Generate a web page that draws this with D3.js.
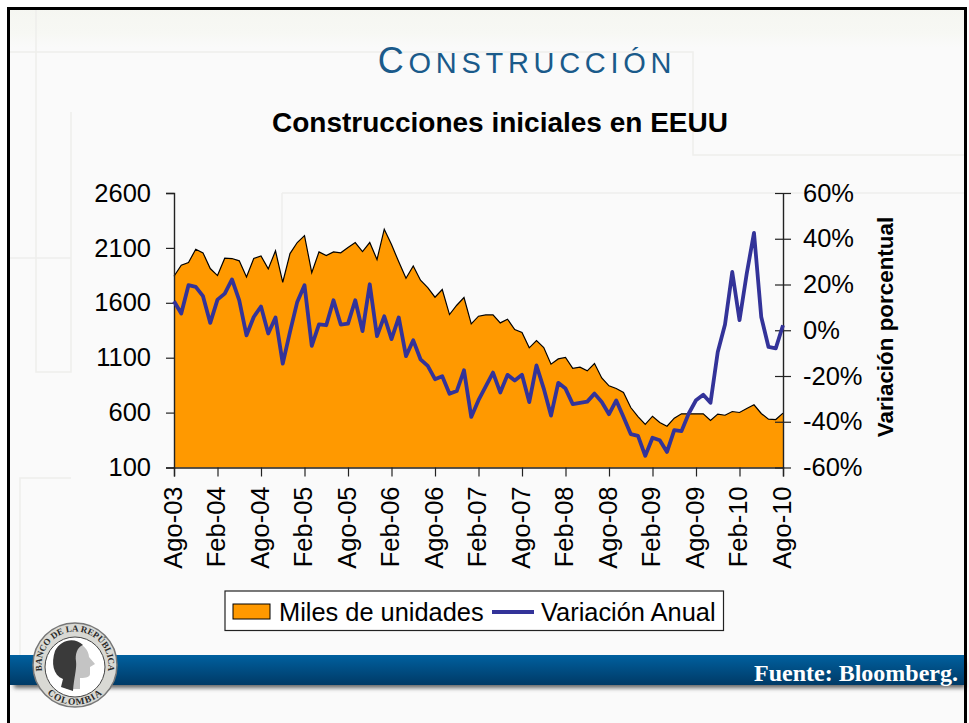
<!DOCTYPE html>
<html><head><meta charset="utf-8">
<script src="https://cdn.jsdelivr.net/npm/d3@7"></script>
<style>html,body{margin:0;padding:0;background:#fff}svg{display:block}text{font-family:"Liberation Sans",Arial,sans-serif}</style>
</head><body><svg id="c" width="969" height="723"></svg>
<script>
const tickLabels=["Ago-03","Feb-04","Ago-04","Feb-05","Ago-05","Feb-06","Ago-06","Feb-07","Ago-07","Feb-08","Ago-08","Feb-09","Ago-09","Feb-10","Ago-10"];
const leftTicks=[100,600,1100,1600,2100,2600];
const rightTicks=[-60,-40,-20,0,20,40,60];
const miles=[1842,1942,1967,2088,2055,1912,1848,2006,2003,1982,1836,2003,2027,1909,2073,1787,2048,2149,2212,1875,2064,2030,2064,2055,2103,2149,2067,2149,1994,2270,2130,1973,1824,1936,1806,1739,1651,1721,1493,1578,1648,1408,1478,1490,1490,1417,1451,1356,1329,1190,1256,1193,1041,1089,1102,1004,1014,980,1047,916,844,819,783,646,564,492,567,510,476,549,589,589,589,589,528,586,576,610,601,637,671,592,540,537,595];
const variacion=[12.7,7.3,19.7,19,14.9,3.2,13.4,16,22.2,13.1,-2.2,5.8,10.4,-1.4,5.6,-14.6,-0.7,12.4,19.7,-6.8,2.6,2.2,13.1,2.5,2.9,13.1,-0.4,20.1,-2.6,6.1,-3.9,5.6,-11.3,-4.4,-12.7,-15.6,-21.4,-20.1,-27.8,-26.6,-17.5,-37.9,-30.6,-24.5,-18.5,-27.2,-19.5,-22,-19.5,-31.4,-15.4,-25.5,-37.3,-23,-25.5,-32.3,-31.7,-31.2,-27.7,-31.4,-36.7,-30.7,-37.9,-45.4,-46.2,-54.9,-47,-48.1,-53.2,-43.7,-44.1,-36.4,-30.6,-28.2,-31.7,-9.5,2.5,25.5,4.4,24.8,42.6,5.8,-7.3,-7.9,2.2];
const svg=d3.select("#c");
const defs=svg.append("defs");
const bg=defs.append("linearGradient").attr("id","bg").attr("x1",0).attr("y1",0).attr("x2",0).attr("y2",1);
bg.append("stop").attr("offset",0).attr("stop-color","#f5f6f1");
bg.append("stop").attr("offset",.035).attr("stop-color","#f7f8f4");
bg.append("stop").attr("offset",.055).attr("stop-color","#fafafa");
bg.append("stop").attr("offset",1).attr("stop-color","#fafafa");
const band=defs.append("linearGradient").attr("id","band").attr("x1",0).attr("y1",0).attr("x2",0).attr("y2",1);
band.append("stop").attr("offset",0).attr("stop-color","#00609f");
band.append("stop").attr("offset",1).attr("stop-color","#003a66");
const blur=defs.append("filter").attr("id","sh").attr("x","-5%").attr("y","-50%").attr("width","110%").attr("height","200%");
blur.append("feGaussianBlur").attr("stdDeviation",2);
svg.append("rect").attr("x",0).attr("y",0).attr("width",969).attr("height",723).attr("fill","#fff");
svg.append("rect").attr("x",8).attr("y",8).attr("width",957).attr("height",715).attr("fill","url(#bg)");
const deco=svg.append("g").attr("fill","none").attr("stroke","#eeeeec").attr("stroke-width",1.5);
["M10,52H693V155H965","M36,9V372H71V112","M282,193H965","M282,193V360","M20,656V478H71","M10,258H71"].forEach(d=>deco.append("path").attr("d",d));
svg.append("rect").attr("x",14).attr("y",662).attr("width",951).attr("height",26).attr("fill","#666").attr("filter","url(#sh)");
svg.append("rect").attr("x",9).attr("y",655).attr("width",956).attr("height",30).attr("fill","url(#band)");
svg.append("path").attr("d","M8.5,723V8.5H965.5V723").attr("fill","none").attr("stroke","#000").attr("stroke-width",3);
const t=svg.append("text").attr("x",527).attr("y",73).attr("text-anchor","middle").attr("fill","#1a5a8a").style("letter-spacing","4.7px");
t.append("tspan").attr("font-size",36).text("C");
t.append("tspan").attr("font-size",42).style("font-variant","small-caps").text("onstrucción");
svg.append("text").attr("x",500).attr("y",132).attr("text-anchor","middle").attr("fill","#000").attr("font-weight","bold").attr("font-size",28).text("Construcciones iniciales en EEUU");
const x=d3.scaleLinear().domain([0,84]).range([174,783]);
const yL=d3.scaleLinear().domain([100,2600]).range([467.5,193]);
const yR=d3.scaleLinear().domain([-60,60]).range([467.5,193]);
const area=d3.area().x((d,i)=>x(i)).y0(yL(100)).y1(d=>yL(d));
const topLine=d3.line().x((d,i)=>x(i)).y(d=>yL(d));
const line=d3.line().x((d,i)=>x(i)).y(d=>yR(d));
svg.append("path").datum(miles).attr("d",area).attr("fill","#ff9900");
svg.append("path").datum(miles).attr("d",topLine).attr("fill","none").attr("stroke","#000").attr("stroke-width",1.2);
const axL=d3.axisLeft(yL).tickValues(leftTicks).tickSize(8).tickPadding(15).tickFormat(d=>d);
const axR=d3.axisRight(yR).tickValues(rightTicks).tickSize(0).tickPadding(20).tickFormat(d=>d+"%");
const axB=d3.axisBottom(x).tickValues(tickLabels.map((d,i)=>i*6)).tickSize(9).tickFormat((d,i)=>tickLabels[i]);
const gL=svg.append("g").attr("transform","translate(174,0)").call(axL);
const gR=svg.append("g").attr("transform","translate(783,0)").call(axR);
gR.selectAll(".tick line").attr("x1",-8).attr("x2",8);
const gB=svg.append("g").attr("transform","translate(0,467.5)").call(axB);
[gL,gR,gB].forEach(g=>{g.select(".domain").attr("stroke","#222").attr("stroke-width",1.4);g.selectAll(".tick line").attr("stroke","#222").attr("stroke-width",1.2);g.selectAll("text").attr("fill","#000").attr("font-size",25.5).style("font-family","'Liberation Sans'");});
gB.selectAll("text").attr("text-anchor","end").attr("transform","rotate(-90)").attr("x",-19).attr("y",-1.5).attr("dy","0.35em");
svg.append("path").datum(variacion).attr("d",line).attr("fill","none").attr("stroke","#333399").attr("stroke-width",3.8).attr("stroke-linejoin","round");
svg.append("text").attr("transform","translate(893,327) rotate(-90)").attr("text-anchor","middle").attr("font-weight","bold").attr("font-size",22.4).attr("fill","#000").text("Variación porcentual");
const leg=svg.append("g");
leg.append("rect").attr("x",225).attr("y",591).attr("width",498.5).attr("height",39.5).attr("fill","#fff").attr("stroke","#222").attr("stroke-width",1.2);
leg.append("rect").attr("x",233).attr("y",604).attr("width",37).attr("height",15).attr("fill","#ff9900").attr("stroke","#000").attr("stroke-width",1);
leg.append("text").attr("x",279).attr("y",621).attr("font-size",25.4).text("Miles de unidades");
leg.append("line").attr("x1",492).attr("x2",534).attr("y1",612).attr("y2",612).attr("stroke","#333399").attr("stroke-width",3.8);
leg.append("text").attr("x",541).attr("y",621).attr("font-size",25.4).text("Variación Anual");
svg.append("text").attr("x",958).attr("y",681).attr("text-anchor","end").attr("fill","#fff").attr("font-weight","bold").attr("font-size",24).style("font-family","'Liberation Serif'").text("Fuente: Bloomberg.");
const s=svg.append("g").attr("transform","translate(75,665)");
s.append("circle").attr("r",42).attr("fill","#d9d9d4").attr("stroke","#777").attr("stroke-width",1.5);
s.append("circle").attr("r",30).attr("cy",2).attr("fill","#fff").attr("stroke","#444").attr("stroke-width",1);
s.append("path").attr("d","M-5,-23C8,-24 14,-14 14,-8L20,-1L15,2L15,9C15,13 8,13 5,13L5,24L-9,24L-4,10L-6,-8Z").attr("fill","#c4c4c4");
s.append("path").attr("d","M-20,-14C-14,-26 0,-28 8,-20C2,-18 0,-10 1,-4C2,4 -1,12 -2,26L-14,22L-12,14C-22,10 -24,-2 -20,-14Z").attr("fill","#3a3a3a");
defs.append("path").attr("id","arcT").attr("d","M-31.5,11A33.4,33.4 0 1 1 31.5,11");
defs.append("path").attr("id","arcB").attr("d","M-31,25A40,40 0 0 0 31,25");
s.append("text").attr("font-size",9).attr("font-weight","bold").attr("fill","#2a2a2a").style("font-family","'Liberation Serif'").append("textPath").attr("href","#arcT").attr("startOffset","50%").attr("text-anchor","middle").text("BANCO DE LA REPÚBLICA");
s.append("text").attr("font-size",9.5).attr("font-weight","bold").attr("fill","#2a2a2a").style("font-family","'Liberation Serif'").style("letter-spacing","1px").append("textPath").attr("href","#arcB").attr("startOffset","50%").attr("text-anchor","middle").text("COLOMBIA");
</script></body></html>
